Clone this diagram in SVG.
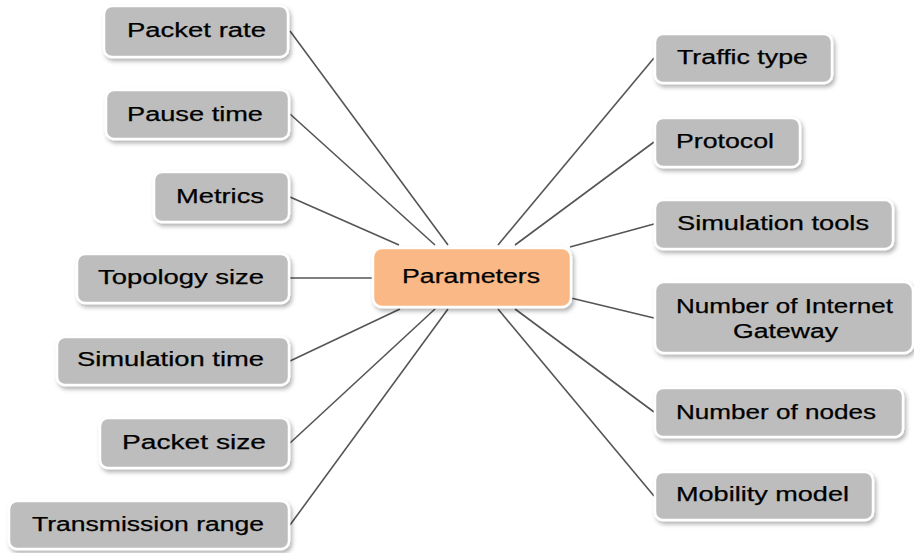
<svg xmlns="http://www.w3.org/2000/svg" width="914" height="553" viewBox="0 0 914 553">
  <defs>
    <filter id="shadow" x="-10%" y="-20%" width="125%" height="150%">
      <feDropShadow dx="2" dy="3" stdDeviation="2" flood-color="#000" flood-opacity="0.3"/>
    </filter>
  </defs>
  <style>
    .box { fill: #bdbdbd; stroke: #ffffff; stroke-width: 2.5; filter: url(#shadow); }
    .hub { fill: #f9b885; stroke: #ffffff; stroke-width: 2.5; filter: url(#shadow); }
    .lbl { font-family: "Liberation Sans", Arial, sans-serif; font-size: 20px; fill: #000; stroke: #000; stroke-width: 0.25; }
    .link { stroke: #555; stroke-width: 1.6; fill: none; }
  </style>
  <rect width="914" height="553" fill="#ffffff"/>

  <g id="connectors">
    <line class="link" x1="290" y1="31" x2="448" y2="245"/>
    <line class="link" x1="290" y1="114" x2="435" y2="245"/>
    <line class="link" x1="290" y1="197" x2="399" y2="245"/>
    <line class="link" x1="290" y1="278" x2="373" y2="278"/>
    <line class="link" x1="290" y1="361" x2="400" y2="309"/>
    <line class="link" x1="290" y1="443" x2="435" y2="309"/>
    <line class="link" x1="290" y1="525" x2="448" y2="309"/>
    <line class="link" x1="654" y1="58" x2="498" y2="245"/>
    <line class="link" x1="654" y1="142" x2="515" y2="245"/>
    <line class="link" x1="654" y1="224" x2="570" y2="247"/>
    <line class="link" x1="654" y1="318" x2="571" y2="298"/>
    <line class="link" x1="654" y1="412" x2="515" y2="309"/>
    <line class="link" x1="654" y1="496" x2="498" y2="309"/>
  </g>

  <g id="hub">
    <rect class="hub" x="373" y="248" width="198" height="59" rx="9"/>
    <text class="lbl" x="402" y="283" textLength="138" lengthAdjust="spacingAndGlyphs">Parameters</text>
  </g>

  <g id="packet-rate">
    <rect class="box" x="104" y="6" width="184" height="51" rx="8"/>
    <text class="lbl" x="127" y="37" textLength="139" lengthAdjust="spacingAndGlyphs">Packet rate</text>
  </g>
  <g id="pause-time">
    <rect class="box" x="106" y="90" width="183" height="49" rx="8"/>
    <text class="lbl" x="127" y="121" textLength="136" lengthAdjust="spacingAndGlyphs">Pause time</text>
  </g>
  <g id="metrics">
    <rect class="box" x="154" y="172" width="135" height="50" rx="8"/>
    <text class="lbl" x="176" y="203" textLength="88" lengthAdjust="spacingAndGlyphs">Metrics</text>
  </g>
  <g id="topology-size">
    <rect class="box" x="77" y="254" width="212" height="49" rx="8"/>
    <text class="lbl" x="98" y="284" textLength="166" lengthAdjust="spacingAndGlyphs">Topology size</text>
  </g>
  <g id="simulation-time">
    <rect class="box" x="57" y="337" width="232" height="48" rx="8"/>
    <text class="lbl" x="77" y="366" textLength="187" lengthAdjust="spacingAndGlyphs">Simulation time</text>
  </g>
  <g id="packet-size">
    <rect class="box" x="100" y="418" width="189" height="50" rx="8"/>
    <text class="lbl" x="122" y="449" textLength="144" lengthAdjust="spacingAndGlyphs">Packet size</text>
  </g>
  <g id="transmission-range">
    <rect class="box" x="9" y="501" width="280" height="48" rx="8"/>
    <text class="lbl" x="32" y="531" textLength="232" lengthAdjust="spacingAndGlyphs">Transmission range</text>
  </g>

  <g id="traffic-type">
    <rect class="box" x="655" y="34" width="177" height="49" rx="8"/>
    <text class="lbl" x="677" y="64" textLength="131" lengthAdjust="spacingAndGlyphs">Traffic type</text>
  </g>
  <g id="protocol">
    <rect class="box" x="655" y="118" width="145" height="49" rx="8"/>
    <text class="lbl" x="676" y="148" textLength="98" lengthAdjust="spacingAndGlyphs">Protocol</text>
  </g>
  <g id="simulation-tools">
    <rect class="box" x="655" y="200" width="238" height="49" rx="8"/>
    <text class="lbl" x="677" y="230" textLength="192" lengthAdjust="spacingAndGlyphs">Simulation tools</text>
  </g>
  <g id="internet-gateway">
    <rect class="box" x="655" y="282" width="258" height="71" rx="9"/>
    <text class="lbl" x="676" y="313" textLength="217" lengthAdjust="spacingAndGlyphs">Number of Internet</text>
    <text class="lbl" x="733" y="338" textLength="105" lengthAdjust="spacingAndGlyphs">Gateway</text>
  </g>
  <g id="number-of-nodes">
    <rect class="box" x="655" y="388" width="248" height="49" rx="8"/>
    <text class="lbl" x="676" y="419" textLength="200" lengthAdjust="spacingAndGlyphs">Number of nodes</text>
  </g>
  <g id="mobility-model">
    <rect class="box" x="655" y="472" width="218" height="48" rx="8"/>
    <text class="lbl" x="676" y="501" textLength="173" lengthAdjust="spacingAndGlyphs">Mobility model</text>
  </g>
</svg>
